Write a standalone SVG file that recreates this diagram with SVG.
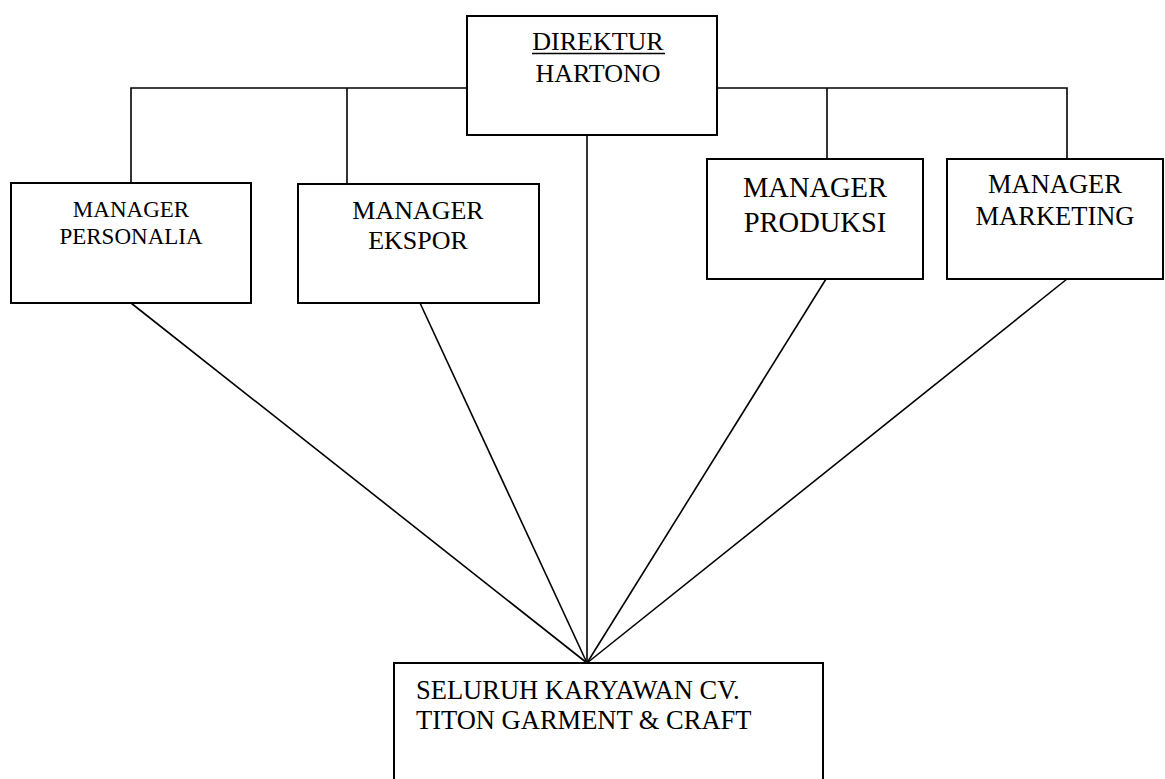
<svg xmlns="http://www.w3.org/2000/svg" width="1165" height="779" viewBox="0 0 1165 779">
<style>
.box{fill:#fff;stroke:#000;stroke-width:2}
.ln{fill:none;stroke:#000;stroke-width:1.6}
text{font-family:"Liberation Serif","Times New Roman",serif;fill:#000;text-anchor:middle}
</style>
<rect width="1165" height="779" fill="#fff"/>
<g id="connectors">
<polyline class="ln" points="131,183 131,88 1067,88 1067,159"/>
<line class="ln" x1="347" y1="88" x2="347" y2="184"/>
<line class="ln" x1="827" y1="88" x2="827" y2="159"/>
<line class="ln" x1="587" y1="135" x2="587" y2="663"/>
<line class="ln" x1="131" y1="303" x2="587" y2="663"/>
<line class="ln" x1="420" y1="303" x2="587" y2="663"/>
<line class="ln" x1="826" y1="279" x2="587" y2="663"/>
<line class="ln" x1="1067" y1="279" x2="587" y2="663"/>
</g>
<g id="direktur">
<rect class="box" x="467" y="16" width="250" height="119"/>
<text x="598" y="50" font-size="26">DIREKTUR</text>
<line x1="532" y1="53.5" x2="665" y2="53.5" stroke="#000" stroke-width="1.5"/>
<text x="598" y="82" font-size="26">HARTONO</text>
</g>
<g id="personalia">
<rect class="box" x="11" y="183" width="240" height="120"/>
<text x="131" y="217" font-size="23">MANAGER</text>
<text x="131" y="244" font-size="23">PERSONALIA</text>
</g>
<g id="ekspor">
<rect class="box" x="298" y="184" width="241" height="119"/>
<text x="418" y="219" font-size="26">MANAGER</text>
<text x="418" y="249" font-size="26">EKSPOR</text>
</g>
<g id="produksi">
<rect class="box" x="707" y="159" width="216" height="120"/>
<text x="815" y="197" font-size="28.5">MANAGER</text>
<text x="815" y="232" font-size="28.5">PRODUKSI</text>
</g>
<g id="marketing">
<rect class="box" x="947" y="159" width="216" height="120"/>
<text x="1055" y="193" font-size="26.5">MANAGER</text>
<text x="1055" y="225" font-size="26.5">MARKETING</text>
</g>
<g id="karyawan">
<rect class="box" x="394" y="663" width="429" height="140"/>
<text x="416" y="699" font-size="26.5" style="text-anchor:start">SELURUH KARYAWAN CV.</text>
<text x="416" y="729" font-size="26.5" style="text-anchor:start">TITON GARMENT &amp; CRAFT</text>
</g>
</svg>
